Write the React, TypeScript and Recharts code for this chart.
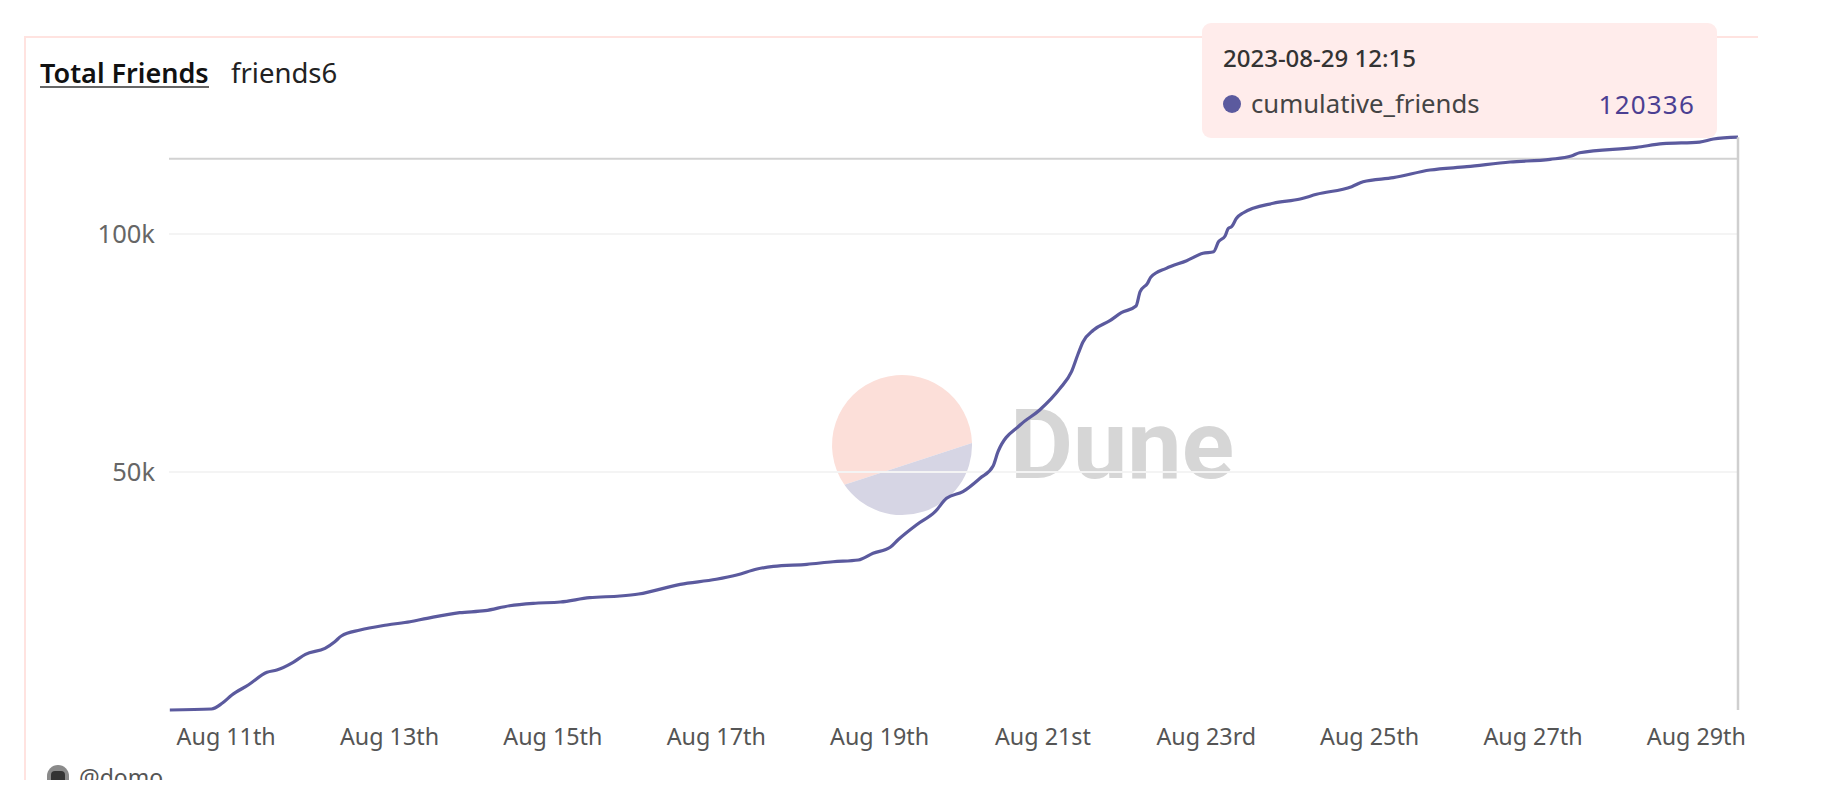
import { LineChart, Line, XAxis, YAxis, CartesianGrid, Tooltip, ReferenceLine } from 'recharts'

// day of August (fraction = time of day)
const days = [
  10.31, 10.82, 10.95, 11.07, 11.27, 11.5, 11.62, 11.82, 11.97, 12.21, 12.33, 12.41, 12.64, 12.97, 13.25, 13.46,
  13.86, 14.17, 14.47, 14.76, 15.09, 15.45, 15.82, 16.05, 16.56, 17.0, 17.25, 17.5, 17.7, 18.11, 18.43, 18.74,
  18.92, 19.13, 19.23, 19.45, 19.68, 19.82, 20.02, 20.23, 20.39, 20.45, 20.72, 20.96, 21.21, 21.35, 21.43, 21.49,
  21.62, 21.82, 21.96, 22.14, 22.19, 22.28, 22.32, 22.51, 22.76, 22.96, 23.09, 23.15, 23.23, 23.27, 23.31, 23.37,
  23.45, 23.82, 24.15, 24.35, 24.78, 24.92, 25.29, 25.74, 26.19, 26.72, 27.21, 27.47, 27.57, 28.27, 28.59, 29.04,
  29.21, 29.51,
]
const cumulativeFriends = [
  0, 210, 1408, 3150, 5250, 7920, 8400, 10020, 11700, 12960, 14350, 15550, 16800, 17860, 18550, 19260,
  20440, 20860, 21910, 22420, 22690, 23590, 23950, 24370, 26400, 27460, 28360, 29620, 30190, 30610, 31150, 31510,
  32920, 34180, 35820, 38870, 41660, 44470, 45860, 48680, 51260, 54260, 59870, 63020, 67580, 71070, 74790, 77310,
  79830, 81790, 83460, 84870, 87880, 89640, 90900, 92790, 94390, 95940, 96280, 98380, 99580, 101200, 101530, 103300,
  104410, 106450, 107350, 108340, 109940, 110990, 111830, 113440, 114140, 115120, 115690, 116380, 117070, 118200, 118970, 119320,
  119950, 120336,
]
const xTicks = [11, 13, 15, 17, 19, 21, 23, 25, 27, 29]
const xLabels = ['Aug 11th', 'Aug 13th', 'Aug 15th', 'Aug 17th', 'Aug 19th', 'Aug 21st', 'Aug 23rd', 'Aug 25th', 'Aug 27th', 'Aug 29th']
const yTicks = [50000, 100000]
const pointerValue = 115800
const hoverLabel = '2023-08-29 12:15'
const seriesName = 'cumulative_friends'

const data = days.map((day, i) => ({ day, value: cumulativeFriends[i] }))

const FONT = '"Noto Sans", sans-serif'
const LINE = '#5b5a9e'

// eslint-disable-next-line @typescript-eslint/no-explicit-any
function HoverBox({ payload }: any) {
  if (!payload?.length) return null
  return (
    <div style={{
      width: 515, height: 115, boxSizing: 'border-box', background: '#ffeceb', borderRadius: 9,
      padding: '0 22px 0 21px', fontFamily: FONT, color: '#333',
    }}>
      <div style={{ fontSize: 24, lineHeight: '34px', paddingTop: 18, fontWeight: 500 }}>{hoverLabel}</div>
      <div style={{ display: 'flex', alignItems: 'center', marginTop: 12, fontSize: 25.7, lineHeight: '34px' }}>
        <span style={{ width: 18, height: 18, borderRadius: 9, background: LINE, marginRight: 10 }} />
        <span style={{ flex: 1, color: '#444' }}>{seriesName}</span>
        <span style={{ color: '#4b3f92', fontSize: 26, letterSpacing: 1.2 }}>{payload[0].value}</span>
      </div>
    </div>
  )
}

function Watermark() {
  return (
    <div style={{ position: 'absolute', left: 0, top: 0 }}>
      <svg width={1300} height={540} style={{ display: 'block' }}>
        <path d="M 972 443 A 70 70 0 1 0 844.4 484.8 Z" fill="#fcdfd9" />
        <path d="M 972 443 A 70 70 0 0 1 844.4 484.8 Z" fill="#d6d5e4" />
        <text x={1010} y={478} fontFamily="Roboto, sans-serif" fontWeight={700} fontSize={97} fill="#d6d6d6">Dune</text>
      </svg>
    </div>
  )
}

export default function App() {
  return (
    <div style={{ position: 'absolute', left: 0, top: 0, width: 1848, height: 780, overflow: 'hidden', background: '#fff' }}>
      <div style={{
        position: 'absolute', left: 24, top: 36, width: 1734, height: 760, boxSizing: 'border-box',
        borderLeft: '2px solid #ffe3e0', borderTop: '2px solid #ffe3e0',
      }} />
      <div style={{
        position: 'absolute', left: 40, top: 56, fontFamily: FONT, fontSize: 27, lineHeight: '34px',
        fontWeight: 600, color: '#111', borderBottom: '2px solid #666', height: 30,
      }}>Total Friends</div>
      <div style={{ position: 'absolute', left: 231, top: 56, fontFamily: FONT, fontSize: 27.5, lineHeight: '34px', color: '#222' }}>friends6</div>

      <Watermark />

      <div style={{ position: 'absolute', left: 0, top: 0 }}>
        <LineChart width={1848} height={780} data={data} margin={{ top: 137.2, right: 110, bottom: 0, left: 0 }}>
          <CartesianGrid stroke="#f4f4f4" strokeWidth={2} vertical={false} horizontalValues={yTicks} />
          <XAxis
            dataKey="day"
            type="number"
            domain={[10.3, 29.51]}
            ticks={xTicks}
            interval={0}
            height={70}
            tickFormatter={(_: number, i: number) => xLabels[i]}
            tick={{ fill: '#555', fontSize: 23.3, fontFamily: FONT }}
            tickLine={false}
            axisLine={false}
            tickMargin={12}
          />
          <YAxis
            width={169}
            domain={[0, 'dataMax']}
            ticks={yTicks}
            tickFormatter={(v: number) => `${v / 1000}k`}
            tick={{ fill: '#666', fontSize: 25.5, fontFamily: FONT }}
            tickLine={false}
            axisLine={false}
            tickMargin={8}
          />
          <ReferenceLine y={pointerValue} stroke="#d2d2d2" strokeWidth={2} />
          <Tooltip
            active
            defaultIndex={days.length - 1}
            position={{ x: 1202, y: 23 }}
            allowEscapeViewBox={{ x: true, y: true }}
            cursor={{ stroke: '#cfcfcf', strokeWidth: 2.5 }}
            content={<HoverBox />}
            isAnimationActive={false}
            wrapperStyle={{ outline: 'none' }}
          />
          <Line
            dataKey="value"
            type="monotone"
            stroke={LINE}
            strokeWidth={3.2}
            dot={false}
            activeDot={false}
            isAnimationActive={false}
          />
        </LineChart>
      </div>

      <div style={{ position: 'absolute', left: 47, top: 765, width: 22, height: 30, borderRadius: 11, background: '#8a8a8a' }} />
      <div style={{ position: 'absolute', left: 51, top: 771, width: 14, height: 14, borderRadius: 4, background: '#333' }} />
      <div style={{ position: 'absolute', left: 79, top: 761, fontFamily: FONT, fontSize: 23, lineHeight: '32px', color: '#555' }}>@domo</div>
    </div>
  )
}
